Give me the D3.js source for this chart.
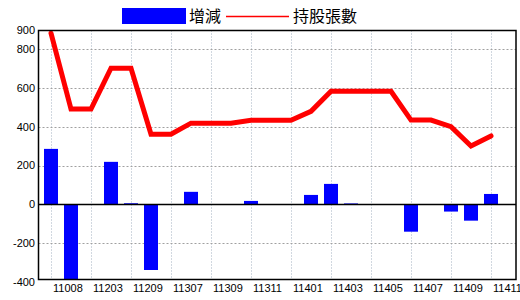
<!DOCTYPE html>
<html>
<head>
<meta charset="utf-8">
<script src="https://cdn.jsdelivr.net/npm/d3@7"></script>
<style>
  body { margin: 0; background: #fff; }
  svg { display: block; }
</style>
</head>
<body>
<div id="chart"></div>
<script>
// Declare constants
const FRAME_WIDTH = 520;
const FRAME_HEIGHT = 300;
const PLOT = {left: 38.5, right: 516, top: 30.5, bottom: 279.5};

// data (year-month in ROC calendar)
const months = ["11008", "11112", "11203", "11206", "11209", "11303", "11307", "11308",
                "11309", "11310", "11311", "11312", "11401", "11402", "11403", "11404",
                "11405", "11406", "11407", "11408", "11409", "11410", "11411"];
// 持股張數
const holdings = [884, 492, 492, 703, 703, 362, 362, 419, 419, 419, 434, 434,
                  434, 480, 584, 584, 584, 584, 435, 435, 401, 301, 353];
// 增減
const changes = [286, -390, 0, 219, 5, -340, 0, 64, 0, 0, 17, 0,
                 0, 48, 105, 4, 0, 0, -142, 0, -38, -85, 53];
const yTicks = [900, 800, 600, 400, 200, 0, -200, -400];
const legendNames = ["增減", "持股張數"];

const svg = d3.select("#chart")
  .append("svg")
    .attr("width", FRAME_WIDTH)
    .attr("height", FRAME_HEIGHT);

const x = d3.scalePoint()
  .domain(months)
  .range([51, 491]);

const y = d3.scaleLinear()
  .domain([-400, 900])
  .range([281.6, 30.1]);

const barW = x.step() * 0.7;

// grid lines
const labelled = months.filter((d, i) => i % 2 == 0);

svg.append("g")
  .selectAll("line")
  .data(labelled)
  .join("line")
    .attr("x1", d => Math.round(x(d)) + 0.5)
    .attr("x2", d => Math.round(x(d)) + 0.5)
    .attr("y1", PLOT.top)
    .attr("y2", PLOT.bottom)
    .attr("stroke", "#a3b1c0")
    .attr("stroke-dasharray", "1,2");

svg.append("g")
  .selectAll("line")
  .data(yTicks.filter(d => d != 0 && d != 900 && d != -400))
  .join("line")
    .attr("x1", PLOT.left)
    .attr("x2", PLOT.right)
    .attr("y1", d => Math.round(y(d)) + 0.5)
    .attr("y2", d => Math.round(y(d)) + 0.5)
    .attr("stroke", "#a0a0a0")
    .attr("stroke-dasharray", "2,2");

// bars
svg.append("g")
  .selectAll("rect")
  .data(changes.map((v, i) => ({m: months[i], v: v})).filter(d => d.v != 0))
  .join("rect")
    .attr("x", d => x(d.m) - barW / 2)
    .attr("width", barW)
    .attr("y", d => y(Math.max(0, d.v)))
    .attr("height", d => Math.abs(y(d.v) - y(0)))
    .attr("fill", "#0000ff");

// zero line
svg.append("line")
  .attr("x1", PLOT.left)
  .attr("x2", PLOT.right)
  .attr("y1", Math.round(y(0)) + 0.5)
  .attr("y2", Math.round(y(0)) + 0.5)
  .attr("stroke", "black")
  .attr("stroke-width", 1.5);

// holdings line
const line = d3.line()
  .x((d, i) => x(months[i]))
  .y(d => y(d));

svg.append("path")
  .datum(holdings)
  .attr("d", line)
  .attr("fill", "none")
  .attr("stroke", "#ff0000")
  .attr("stroke-width", 5)
  .attr("stroke-linejoin", "miter")
  .attr("stroke-linecap", "round");

// frame
svg.append("path")
  .attr("d", `M${PLOT.left},${PLOT.top}H${PLOT.right}V${PLOT.bottom}H${PLOT.left}Z`)
  .attr("fill", "none")
  .attr("stroke", "black")
  .attr("stroke-width", 1.5);

// y axis labels
svg.append("g")
  .selectAll("text")
  .data(yTicks)
  .join("text")
    .attr("x", 35)
    .attr("y", d => y(d))
    .attr("dy", "0.36em")
    .attr("text-anchor", "end")
    .attr("font-family", "Liberation Sans, Arial, sans-serif")
    .attr("font-size", 11)
    .attr("fill", "black")
    .text(d => d);

// x axis labels
svg.append("g")
  .selectAll("text")
  .data(labelled)
  .join("text")
    .attr("x", d => x(d) + 2)
    .attr("y", 292)
    .attr("text-anchor", "start")
    .attr("font-family", "Liberation Sans, Arial, sans-serif")
    .attr("font-size", 11)
    .attr("fill", "black")
    .text(d => d);

// legend
const legend = svg.append("g")
  .attr("font-family", "Noto Sans CJK TC, sans-serif")
  .attr("font-size", 16);

legend.append("rect")
  .attr("x", 122).attr("y", 8)
  .attr("width", 64).attr("height", 16)
  .attr("fill", "#0000ff");

legend.append("text")
  .attr("x", 189).attr("y", 16)
  .attr("dy", "0.35em")
  .text(legendNames[0]);

legend.append("line")
  .attr("x1", 226).attr("x2", 289)
  .attr("y1", 16.5).attr("y2", 16.5)
  .attr("stroke", "#ff0000")
  .attr("stroke-width", 1.5);

legend.append("text")
  .attr("x", 293).attr("y", 16)
  .attr("dy", "0.35em")
  .text(legendNames[1]);
</script>
</body>
</html>
